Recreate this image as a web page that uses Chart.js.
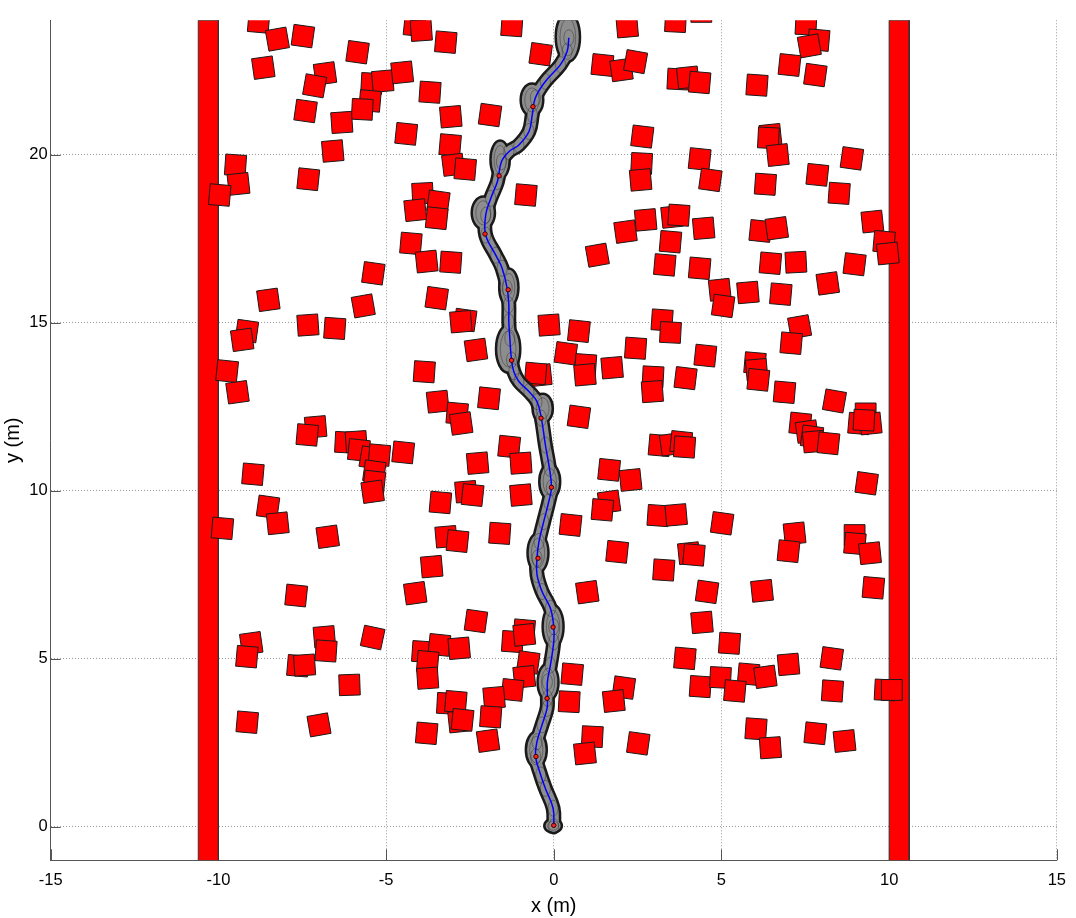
<!DOCTYPE html>
<html>
<head>
<meta charset="utf-8">
<script src="https://cdn.jsdelivr.net/npm/chart.js@4.4.0/dist/chart.umd.min.js"></script>
<style>
  html, body { margin: 0; padding: 0; background: #fff; }
  #wrap { width: 1076px; height: 918px; }
</style>
</head>
<body>
<div id="wrap"><canvas id="plot" width="1076" height="918"></canvas></div>
<script>
// axes
const xTicks = [-15, -10, -5, 0, 5, 10, 15];
const yTicks = [0, 5, 10, 15, 20];
const xRange = [-15, 15];
const yRange = [-1, 24];

// side walls (x from / to)
const wallLeft = [-10.6, -10];
const wallRight = [10, 10.6];

// obstacles: centre x, centre y, heading (deg)
const obsX = [
  -8.8, -8.24, -7.48, -5.85, -8.66, -6.82, -7.13, -5.43, -5.1, -5.48, -5.71, -7.4, -6.32, -6.59, -9.49, -9.4, -9.96, -7.32, -5.38, -8.51, -5.68,
  -4.15, -3.95, -3.22, -1.25, 2.19, 3.63, 4.4, -0.39, -4.52, -3.69, -3.07, -1.9, -4.4, -3.09, -3.0, -2.64, -3.91, -3.44, -4.13, -3.49, -0.83, -4.26, -3.79, -3.07, -3.49,
  1.45, 2.02, 2.44, 3.7, 4.0, 4.35, 2.64, 2.62, 2.59, 4.35, 4.67, 1.3, 2.14, 2.74, 3.53, 3.73, 3.48, 4.47, 3.31, 4.35, 4.95, 5.05,
  7.52, 7.9, 7.62, 7.03, 7.8, 6.06, 6.46, 6.4, 6.68, 8.89, 6.31, 7.86, 8.51, 9.5, 9.85, 9.96, 6.16, 6.65, 6.46, 7.22, 8.97, 8.17, 5.79, 6.77,
  -7.33, -6.53, -9.15, -9.29, -9.74, -9.43, -7.1, -7.35, -6.21, -5.89, -5.81, -5.45, -5.2, -5.35, -5.35, -5.4, -8.97, -8.52, -8.23, -9.88, -6.74,
  -2.64, -2.77, -0.14, 0.75, 3.23, 3.48, -2.32, 0.36, 0.95, 0.93, -0.39, -0.54, 1.74, 2.44, 4.52, 2.96, 2.94, 3.93,
  -3.86, -3.46, -1.93, -2.88, -2.76, 0.75, -1.33, -0.98, -2.27, -4.49, 3.15, 3.5, 3.8, 3.9, 1.65, 2.29, -2.62, -2.42,
  -3.38, -0.98, 1.65, 1.45, 3.11, 3.65, 5.02, 0.5, -3.21, -2.87, -1.61, -3.64, 1.89, 3.28, 4.03, 4.18,
  7.33, 7.08, 6.0, 6.05, 6.1, 6.88, 8.37, 9.3, 9.1, 9.45, 9.25, 7.35, 7.55, 7.7, 7.75, 8.19, 9.33, 7.18, 7.0, 8.97, 8.98, 9.43,
  -7.68, -9.02, -9.15, -6.84, -6.79, -7.63, -7.43, -5.4, -6.09, -9.14, -7.0,
  -4.13, -2.32, 1.0, -0.88, -1.23, -0.88, -3.91, -3.41, -2.82, -3.76, -3.76, -0.76, -0.88, -1.23, -1.78, -3.17, -2.92,
  -2.82, -2.72, -1.88, -3.79, -1.96, 0.55, 0.46, 2.09, 1.79, 1.15, 0.93, 2.52, 3.91, 4.57, 4.42, 4.37,
  6.21, 9.53, 5.24, 8.29, 7.0, 5.81, 6.31, 4.97, 5.4, 8.31, 9.88, 10.08, 6.03, 6.46, 7.8, 8.67
];
const obsY = [
  23.95, 23.44, 23.53, 23.05, 22.59, 22.42, 22.05, 22.12, 22.19, 21.6, 21.35, 21.3, 20.96, 20.11, 19.69, 19.13, 18.8, 19.27, 16.47, 15.68, 15.5,
  23.85, 23.7, 23.35, 23.84, 23.81, 23.96, 24.25, 22.99, 22.45, 21.86, 21.13, 21.18, 20.62, 20.29, 19.7, 19.57, 18.85, 18.6, 18.35, 18.11, 18.8, 17.36, 16.82, 16.8, 15.73,
  22.67, 22.52, 22.77, 22.25, 22.3, 22.15, 20.54, 19.74, 19.25, 19.87, 19.25, 17.01, 17.71, 18.06, 18.15, 18.2, 17.41, 17.81, 16.72, 16.62, 15.98, 15.5,
  23.88, 23.41, 23.24, 22.67, 22.37, 22.07, 20.59, 20.5, 19.99, 19.89, 19.12, 19.4, 18.85, 18.01, 17.41, 17.06, 17.73, 17.81, 16.77, 16.8, 16.74, 16.17, 15.9, 15.85,
  14.93, 14.83, 14.75, 14.49, 13.56, 12.93, 11.9, 11.66, 11.44, 11.46, 11.21, 10.98, 11.06, 10.57, 10.27, 9.97, 10.49, 9.52, 9.03, 8.88, 8.63,
  15.08, 15.03, 14.93, 14.75, 15.08, 14.71, 14.19, 14.09, 13.75, 13.45, 13.44, 13.49, 13.66, 14.24, 14.02, 13.39, 12.95, 13.35,
  13.54, 12.65, 12.75, 12.3, 12.0, 12.2, 11.31, 10.82, 10.82, 11.14, 11.35, 11.38, 11.45, 11.3, 10.62, 10.32, 9.97, 9.87,
  9.65, 9.87, 9.67, 9.43, 9.26, 9.28, 9.03, 8.98, 8.63, 8.5, 8.73, 7.74, 8.18, 7.64, 8.14, 8.09,
  14.88, 14.39, 13.8, 13.6, 13.3, 12.93, 12.67, 12.3, 12.0, 12.0, 12.1, 12.0, 11.76, 11.61, 11.46, 11.41, 10.22, 8.73, 8.2, 8.68, 8.43, 8.14,
  6.88, 5.46, 5.06, 5.65, 5.23, 4.79, 4.81, 5.63, 4.22, 3.11, 3.03,
  6.95, 6.12, 6.98, 5.85, 5.51, 5.71, 5.21, 5.41, 5.31, 4.91, 4.42, 4.89, 4.46, 4.07, 3.84, 3.67, 3.72,
  3.13, 3.18, 3.27, 2.78, 2.56, 4.54, 3.72, 4.14, 3.74, 2.68, 2.18, 2.48, 5.01, 6.99, 6.08, 4.17,
  7.02, 7.11, 5.46, 5.01, 4.83, 4.54, 4.46, 4.44, 4.04, 4.04, 4.07, 4.07, 2.91, 2.35, 2.78, 2.55
];
const obsAngle = [
  5, -10, 8, 8, -8, -8, 10, 3, -5, 5, 3, 8, -4, -5, 4, -6, 5, 6, 8, -8, -10,
  6, -4, 5, 4, -5, 3, 0, 8, -6, 4, -5, 8, 6, 5, -7, 5, -3, 8, -6, 6, 5, 5, -6, 4, 8,
  6, -8, 10, 3, -6, 5, 7, 3, -5, 6, 8, -10, -8, -5, -6, 4, 5, -5, 5, 5, -6, 8,
  3, 5, -10, 6, 8, 4, -6, 3, -6, 8, 4, 6, 4, -6, 5, -6, 6, -8, 5, -3, 7, -8, -5, 5,
  -4, 4, 8, -8, 6, -8, -5, 5, 3, -4, 6, 10, 5, 8, 6, -8, 5, 8, -6, 5, -8,
  8, -5, -4, 6, 4, 3, -8, 8, 4, -5, -6, 5, -5, 4, 6, 3, -4, 7,
  4, -6, 6, 5, -8, 8, 6, -4, -5, 6, 5, -8, 6, 4, 6, -6, -5, 6,
  5, -5, -8, 5, 4, -5, 8, 6, -5, 6, 4, -5, 6, 4, -6, 5,
  -10, 5, 5, -5, 6, 5, 10, 0, 5, -6, 3, 6, -8, 8, -5, 6, 8, -6, 6, 0, 5, -6,
  6, -8, 5, -5, 4, 5, -4, 12, -2, 5, -10,
  -8, 8, -8, 5, 4, -6, 4, 6, -5, 5, -4, 8, -6, 6, -5, 3, 5,
  -6, 6, 4, 5, -8, 5, 3, 8, -6, 3, -6, 8, 5, 8, -5, 4,
  -6, 5, 4, 8, -5, 5, -8, 3, 5, 4, 3, 0, 4, -4, 6, -6
];
const OBS_SIDE = 0.62;

// travelled path (centre line)
const pathX = [0, -0.02, -0.25, -0.39, -0.54, -0.5, -0.35, -0.2, -0.19, -0.19, -0.1, 0, 0, -0.1, -0.35, -0.5, -0.5, -0.44, -0.3, -0.15,
  -0.07, -0.13, -0.25, -0.37, -0.5, -0.74, -1.04, -1.19, -1.26, -1.31, -1.34, -1.34, -1.39, -1.54, -1.73, -2.03, -2.03, -1.88,
  -1.68, -1.56, -1.34, -1.04, -0.74, -0.64, -0.55, -0.25, 0.2, 0.4, 0.45];
const pathY = [0, 0.55, 1.14, 1.54, 2.08, 2.53, 3.03, 3.52, 3.82, 4.31, 4.81, 5.5, 5.95, 6.5, 7.0, 7.5, 7.99, 8.49, 9.08, 9.67,
  10.09, 10.67, 11.36, 12.16, 12.65, 12.95, 13.25, 13.54, 13.89, 14.54, 15.03, 15.53, 16.03, 16.62, 17.01, 17.61, 18.2, 18.7,
  19.2, 19.79, 20.09, 20.29, 20.69, 21.19, 21.69, 22.18, 22.68, 23.08, 23.48];

// uncertainty ellipses along the path (centre, width, height in m)
const bulgeX = [-0.02, -0.52, -0.17, -0.02, -0.47, -0.12, -0.33, -1.36, -1.34, -2.1, -1.6, -0.65, 0.42];
const bulgeY = [0.03, 2.29, 4.3, 5.96, 8.15, 10.27, 12.45, 14.22, 16.05, 18.27, 19.85, 21.63, 23.5];
const bulgeW = [0.45, 0.55, 0.55, 0.55, 0.55, 0.55, 0.53, 0.65, 0.5, 0.62, 0.5, 0.6, 0.65];
const bulgeH = [0.34, 1.0, 1.04, 1.2, 1.1, 1.0, 0.8, 1.34, 1.05, 0.9, 1.07, 0.9, 1.4];

// pose markers
const markX = [0, -0.53, -0.2, -0.02, -0.47, -0.07, -0.38, -1.26, -1.36, -2.05, -1.63, -0.62];
const markY = [0.04, 2.09, 3.82, 5.94, 7.99, 10.1, 12.16, 13.88, 15.98, 17.64, 19.37, 21.43];

const TUBE_GRAY = '#8d8d8d';
const TUBE_EDGE = '#1a1a1a';
const FONT = "'Liberation Sans', Arial, Helvetica, sans-serif";

function pts(xs, ys) { return xs.map((x, i) => ({ x: x, y: ys[i] })); }
function wallPts(w) {
  return [
    { x: w[0], y: yRange[0] }, { x: w[0], y: yRange[1] },
    { x: w[1], y: yRange[1] }, { x: w[1], y: yRange[0] }
  ];
}

// ellipses are drawn right after the two tube layers
const tubeEllipses = {
  id: 'tubeEllipses',
  afterDatasetDraw(chart, args) {
    if (args.index !== 2 && args.index !== 3) return;
    const { ctx, chartArea: a } = chart;
    const x = chart.scales.x, y = chart.scales.y;
    const ux = Math.abs(x.getPixelForValue(1) - x.getPixelForValue(0));
    const uy = Math.abs(y.getPixelForValue(1) - y.getPixelForValue(0));
    ctx.save();
    ctx.beginPath();
    ctx.rect(a.left, a.top, a.right - a.left, a.bottom - a.top);
    ctx.clip();
    bulgeX.forEach((bx, i) => {
      const cx = x.getPixelForValue(bx), cy = y.getPixelForValue(bulgeY[i]);
      ctx.beginPath();
      ctx.ellipse(cx, cy, bulgeW[i] / 2 * ux, bulgeH[i] / 2 * uy, 0, 0, Math.PI * 2);
      if (args.index === 3) {
        ctx.fillStyle = TUBE_EDGE; ctx.fill();
        ctx.lineWidth = 5; ctx.strokeStyle = TUBE_EDGE; ctx.stroke();
      } else {
        ctx.fillStyle = TUBE_GRAY; ctx.fill();
      }
    });
    if (args.index === 2) {
      // thin outlines give the hatched look of the overlapping ellipses
      ctx.lineWidth = 0.7;
      ctx.strokeStyle = 'rgba(30,30,30,0.55)';
      pathX.forEach((px, i) => {
        ctx.beginPath();
        ctx.ellipse(x.getPixelForValue(px), y.getPixelForValue(pathY[i]), 0.15 * ux, 0.24 * uy, 0, 0, Math.PI * 2);
        ctx.stroke();
      });
      bulgeX.forEach((bx, i) => {
        ctx.beginPath();
        ctx.ellipse(x.getPixelForValue(bx), y.getPixelForValue(bulgeY[i]), bulgeW[i] * 0.36 * ux, bulgeH[i] * 0.4 * uy, 0, 0, Math.PI * 2);
        ctx.stroke();
      });
    }
    ctx.restore();
  }
};

// matlab style ticks pointing into the axes
const innerTicks = {
  id: 'innerTicks',
  beforeDatasetsDraw(chart) {
    const { ctx, chartArea: a } = chart;
    const x = chart.scales.x, y = chart.scales.y;
    ctx.save();
    ctx.strokeStyle = '#555';
    ctx.lineWidth = 1;
    ctx.beginPath();
    x.ticks.forEach(t => {
      const p = Math.round(x.getPixelForValue(t.value)) + 0.5;
      ctx.moveTo(p, a.bottom); ctx.lineTo(p, a.bottom - 11);
    });
    y.ticks.forEach(t => {
      const p = Math.round(y.getPixelForValue(t.value)) + 0.5;
      ctx.moveTo(a.left, p); ctx.lineTo(a.left + 10, p);
    });
    ctx.stroke();
    ctx.restore();
  }
};

const obsRadius = c => {
  const s = c.chart.scales.x;
  if (!s) return 14;
  return Math.abs(s.getPixelForValue(OBS_SIDE) - s.getPixelForValue(0)) / Math.SQRT2;
};

new Chart(document.getElementById('plot'), {
  type: 'line',
  data: {
    datasets: [
      { // 0 pose markers
        data: pts(markX, markY), showLine: false, clip: 0,
        pointStyle: 'circle', pointRadius: 2.2, pointBackgroundColor: '#ff2020',
        pointBorderColor: '#3a0000', pointBorderWidth: 1
      },
      { // 1 path
        data: pts(pathX, pathY), clip: 0, tension: 0.4,
        borderColor: '#0000ff', borderWidth: 1.5, pointRadius: 0
      },
      { // 2 tube inside
        data: pts(pathX, pathY), clip: 0, tension: 0.4,
        borderColor: TUBE_GRAY, borderWidth: 10, pointRadius: 0,
        borderCapStyle: 'round', borderJoinStyle: 'round'
      },
      { // 3 tube outline
        data: pts(pathX, pathY), clip: 0, tension: 0.4,
        borderColor: TUBE_EDGE, borderWidth: 15, pointRadius: 0,
        borderCapStyle: 'round', borderJoinStyle: 'round'
      },
      { // 4 obstacles
        data: pts(obsX, obsY), showLine: false, clip: 0,
        pointStyle: 'rect', pointRadius: obsRadius,
        pointRotation: c => obsAngle[c.dataIndex],
        pointBackgroundColor: '#ff0000', pointBorderColor: '#1a1a1a', pointBorderWidth: 1
      },
      { // 5 left wall
        data: wallPts(wallLeft), clip: 0, fill: 'shape', tension: 0,
        backgroundColor: '#ff0000', borderColor: '#333', borderWidth: 1, pointRadius: 0
      },
      { // 6 right wall
        data: wallPts(wallRight), clip: 0, fill: 'shape', tension: 0,
        backgroundColor: '#ff0000', borderColor: '#333', borderWidth: 1, pointRadius: 0
      }
    ]
  },
  options: {
    responsive: false,
    animation: false,
    events: [],
    devicePixelRatio: 1,
    layout: { padding: { top: 20.3, right: 17.3, left: 0, bottom: 0 } },
    plugins: { legend: { display: false }, tooltip: { enabled: false } },
    scales: {
      x: {
        type: 'linear', min: xRange[0], max: xRange[1],
        afterBuildTicks: s => { s.ticks = xTicks.map(v => ({ value: v })); },
        afterFit: s => { s.height = 57.7; },
        grid: { color: '#9a9a9a', lineWidth: 1, drawTicks: false },
        border: { color: '#555', width: 1, dash: [1, 2] },
        ticks: { color: '#000', padding: 10, font: { family: FONT, size: 16.5 }, maxRotation: 0 },
        title: { display: true, text: 'x (m)', color: '#000', font: { family: FONT, size: 20 }, padding: { top: 4, bottom: 0 } }
      },
      y: {
        type: 'linear', min: yRange[0], max: yRange[1],
        afterBuildTicks: s => { s.ticks = yTicks.map(v => ({ value: v })); },
        afterFit: s => { s.width = 50.7; },
        grid: { color: '#9a9a9a', lineWidth: 1, drawTicks: false },
        border: { color: '#555', width: 1, dash: [1, 2] },
        ticks: { color: '#000', padding: 3, font: { family: FONT, size: 16.5 } },
        title: { display: true, text: 'y (m)', color: '#000', font: { family: FONT, size: 20 }, padding: { top: 1, bottom: 0 } }
      }
    }
  },
  plugins: [tubeEllipses, innerTicks]
});
</script>
</body>
</html>
